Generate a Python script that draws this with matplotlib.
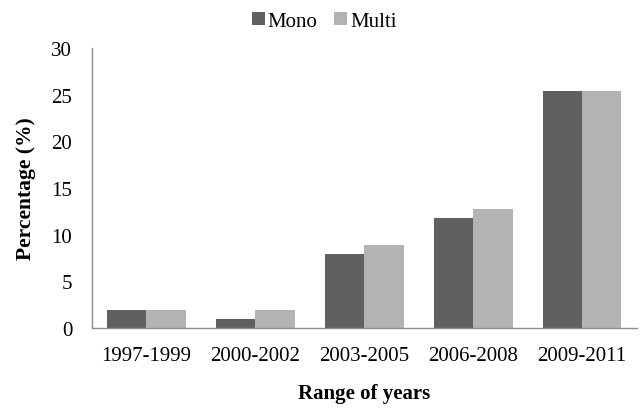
import numpy as np
import matplotlib
matplotlib.use("Agg")
import matplotlib.pyplot as plt

# 데이터
categories = ["1997-1999", "2000-2002", "2003-2005", "2006-2008", "2009-2011"]
mono = [2, 1, 7.9, 11.8, 25.4]
multi = [2, 2, 8.9, 12.8, 25.4]

plt.rcParams['font.family'] = ['Liberation Serif', 'DejaVu Serif']

fig = plt.figure(figsize=(6.41, 4.10), dpi=100)
ax = fig.add_axes([0.143, 0.197, 0.850, 0.684])

x = np.arange(len(categories))
w = 0.362
ax.bar(x - w / 2, mono, w, color='#606060', label='Mono')
ax.bar(x + w / 2, multi, w, color='#b3b3b3', label='Multi')

ax.set_xlim(-0.5, len(categories) - 0.5)
ax.set_ylim(0, 30)
ax.set_yticks(range(0, 31, 5))
ax.set_xticks(x)
ax.set_xticklabels(categories)
ax.tick_params(axis='both', length=0, labelsize=15)
ax.tick_params(axis='y', pad=14)
ax.tick_params(axis='x', pad=13)

for s in ['top', 'right']:
    ax.spines[s].set_visible(False)
for s in ['left', 'bottom']:
    ax.spines[s].set_color('#8c8c8c')
    ax.spines[s].set_linewidth(1.0)

ax.set_xlabel('Range of years', fontsize=15, fontweight='bold', labelpad=13)
ax.set_ylabel('Percentage (%)', fontsize=15.5, fontweight='bold', labelpad=11)

fig.legend(loc='center', bbox_to_anchor=(0.506, 0.945), ncol=2, frameon=False,
           fontsize=15, handlelength=0.6, handleheight=0.6, handletextpad=0.15,
           columnspacing=0.8)

fig.savefig('out.png', dpi=100)
